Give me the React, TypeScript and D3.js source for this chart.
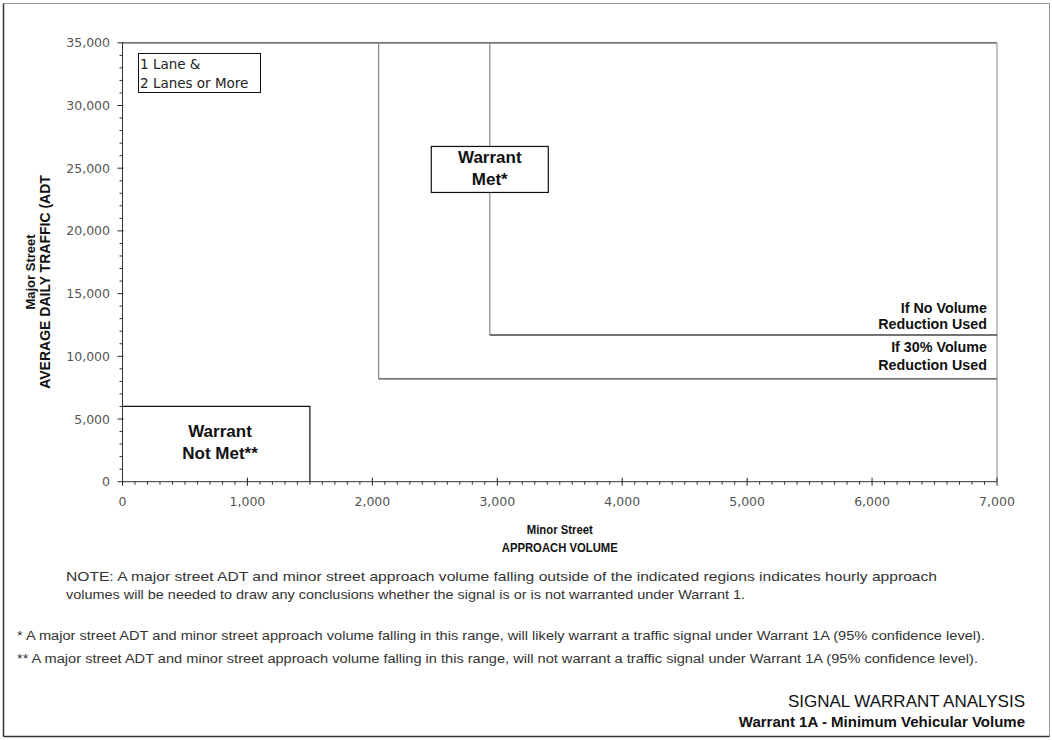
import React from "react";
import * as d3 from "d3";

// ---- Data ----
const xTickValues = [0, 1000, 2000, 3000, 4000, 5000, 6000, 7000];
const yTickValues = [0, 5000, 10000, 15000, 20000, 25000, 30000, 35000];
const xDomain = [0, 7000];
const yDomain = [0, 35000];

// Warrant met boundaries (minor street approach volume, major street ADT)
const boundaryLabels = [
  ["If No Volume", "Reduction Used"],
  ["If 30% Volume", "Reduction Used"],
];
const boundaryMinor = [2940, 2050];
const boundaryMajor = [11700, 8200];

// Warrant not met region
const notMetMinor = [0, 1500];
const notMetMajor = [0, 6000];

const legendLines = ["1 Lane &", "2 Lanes or More"];
const metLabel = ["Warrant", "Met*"];
const notMetLabel = ["Warrant", "Not Met**"];

const xTitle = ["Minor Street", "APPROACH VOLUME"];
const yTitle = ["Major Street", "AVERAGE DAILY TRAFFIC (ADT"];

const noteLines = [
  "NOTE:  A major street ADT and minor street approach volume falling outside of the indicated regions indicates hourly approach",
  "volumes will be needed to draw any conclusions whether the signal is or is not warranted under Warrant 1.",
];
const footnotes = [
  "*  A major street ADT and minor street approach volume falling in this range, will likely warrant a traffic signal under Warrant 1A (95% confidence level).",
  "** A major street ADT and minor street approach volume falling in this range, will not warrant a traffic signal under Warrant 1A (95%  confidence level).",
];
const footerLines = ["SIGNAL WARRANT ANALYSIS", "Warrant 1A - Minimum Vehicular Volume"];

const W = 1052;
const H = 740;
const ARIAL = "'Liberation Sans', Arial, sans-serif";
const WIDE = "'DejaVu Sans', Verdana, sans-serif";

export default function App() {
  const x = d3.scaleLinear().domain(xDomain).range([122.5, 997]);
  const y = d3.scaleLinear().domain(yDomain).range([481.7, 42.8]);
  const fmt = d3.format(",");

  const xMinor = d3.range(xDomain[0], xDomain[1] + 1, 100).filter((v) => v % 1000 !== 0);
  const yMinor = d3.range(yDomain[0], yDomain[1] + 1, 1000).filter((v) => v % 5000 !== 0);

  const x0 = x(xDomain[0]);
  const x1 = x(xDomain[1]);
  const y0 = y(yDomain[0]);
  const y1 = y(yDomain[1]);

  // Met label box anchored on the no-reduction boundary
  const metX = x(boundaryMinor[0]);
  const metYc = y(24900);

  const noteWidths = [871, 679];
  const footWidths = [968, 961];
  const xTitleWidths = [66, 116];

  return (
    <svg
      width={W}
      height={H}
      style={{ position: "absolute", left: 0, top: 0, background: "#fff" }}
    >
      <rect x={0} y={0} width={W} height={H} fill="#fff" />
      {/* outer frame */}
      <line x1={3.5} y1={3.5} x2={1049.5} y2={3.5} stroke="#999" strokeWidth={1} />
      <line x1={1049.5} y1={3.5} x2={1049.5} y2={736.5} stroke="#999" strokeWidth={1} />
      <line x1={3.5} y1={3.5} x2={3.5} y2={736.5} stroke="#333" strokeWidth={1.5} />
      <line x1={3.5} y1={736.5} x2={1049.5} y2={736.5} stroke="#333" strokeWidth={1.5} />

      {/* plot frame */}
      <line x1={x0} y1={y1} x2={x1} y2={y1} stroke="#444" strokeWidth={1.3} />
      <line x1={x1} y1={y1} x2={x1} y2={y0} stroke="#888" strokeWidth={1} />
      <line x1={x0} y1={y1} x2={x0} y2={y0} stroke="#333" strokeWidth={1} />
      <line x1={x0} y1={y0} x2={x1} y2={y0} stroke="#333" strokeWidth={1} />

      {/* x ticks */}
      {xMinor.map((v) => (
        <line key={"xm" + v} x1={x(v)} x2={x(v)} y1={y0} y2={y0 + 3} stroke="#333" />
      ))}
      {xTickValues.map((v) => (
        <g key={"xt" + v}>
          <line x1={x(v)} x2={x(v)} y1={y0 - 4} y2={y0 + 4} stroke="#222" />
          <text
            x={x(v)}
            y={506}
            textAnchor="middle"
            fontFamily={WIDE}
            fontSize={12.5}
            fill="#555"
          >
            {fmt(v)}
          </text>
        </g>
      ))}

      {/* y ticks */}
      {yMinor.map((v) => (
        <line key={"ym" + v} x1={x0 - 3} x2={x0} y1={y(v)} y2={y(v)} stroke="#333" />
      ))}
      {yTickValues.map((v) => (
        <g key={"yt" + v}>
          <line x1={x0 - 5} x2={x0 + 1} y1={y(v)} y2={y(v)} stroke="#222" />
          <text
            x={110}
            y={y(v) + 4.5}
            textAnchor="end"
            fontFamily={WIDE}
            fontSize={12.5}
            fill="#555"
          >
            {fmt(v)}
          </text>
        </g>
      ))}

      {/* boundaries */}
      {boundaryMinor.map((m, i) => (
        <g key={"b" + i}>
          <line
            x1={x(m)}
            x2={x(m)}
            y1={y1}
            y2={y(boundaryMajor[i])}
            stroke="#888"
            strokeWidth={1.2}
          />
          <line
            x1={x(m)}
            x2={x1}
            y1={y(boundaryMajor[i])}
            y2={y(boundaryMajor[i])}
            stroke="#444"
            strokeWidth={1.4}
          />
          {boundaryLabels[i].map((t, j) => (
            <text
              key={j}
              x={987}
              y={y(boundaryMajor[i]) - 22 + j * (i === 0 ? 16 : 18) + (i === 0 ? 0 : -5)}
              textAnchor="end"
              fontFamily={ARIAL}
              fontWeight="bold"
              fontSize={14.3}
              fill="#111"
            >
              {t}
            </text>
          ))}
        </g>
      ))}

      {/* not met region */}
      <polyline
        points={[
          [x(notMetMinor[0]), y(notMetMajor[1])],
          [x(notMetMinor[1]), y(notMetMajor[1])],
          [x(notMetMinor[1]), y(notMetMajor[0])],
        ]
          .map((p) => p.join(","))
          .join(" ")}
        fill="none"
        stroke="#111"
        strokeWidth={1.2}
      />
      {notMetLabel.map((t, j) => (
        <text
          key={"nm" + j}
          x={220}
          y={437 + j * 22}
          textAnchor="middle"
          fontFamily={ARIAL}
          fontWeight="bold"
          fontSize={17}
          fill="#111"
        >
          {t}
        </text>
      ))}

      {/* met label */}
      <rect
        x={metX - 58.5}
        y={metYc - 23}
        width={117}
        height={46}
        fill="#fff"
        stroke="#111"
        strokeWidth={1.2}
      />
      {metLabel.map((t, j) => (
        <text
          key={"m" + j}
          x={metX}
          y={metYc - 6 + j * 22}
          textAnchor="middle"
          fontFamily={ARIAL}
          fontWeight="bold"
          fontSize={17}
          fill="#111"
        >
          {t}
        </text>
      ))}

      {/* legend box */}
      <rect x={138.5} y={53.5} width={122} height={39} fill="#fff" stroke="#111" strokeWidth={1} />
      {legendLines.map((t, j) => (
        <text
          key={"l" + j}
          x={140}
          y={69 + j * 19}
          fontFamily={WIDE}
          fontSize={13.5}
          fill="#222"
        >
          {t}
        </text>
      ))}

      {/* axis titles */}
      {xTitle.map((t, j) => (
        <text
          key={"xt" + j}
          x={(x0 + x1) / 2 - xTitleWidths[j] / 2}
          y={534 + j * 18}
          fontFamily={ARIAL}
          fontWeight="bold"
          fontSize={13.5}
          fill="#111"
          textLength={xTitleWidths[j]}
          lengthAdjust="spacingAndGlyphs"
        >
          {t}
        </text>
      ))}
      <text
        transform={`translate(35,272) rotate(-90)`}
        textAnchor="middle"
        fontFamily={ARIAL}
        fontWeight="bold"
        fontSize={13}
        fill="#111"
      >
        {yTitle[0]}
      </text>
      <text
        transform={`translate(50,282) rotate(-90)`}
        textAnchor="middle"
        fontFamily={ARIAL}
        fontWeight="bold"
        fontSize={14}
        fill="#111"
      >
        {yTitle[1]}
      </text>

      {/* notes */}
      {noteLines.map((t, j) => (
        <text
          key={"n" + j}
          x={66}
          y={581 + j * 18}
          fontFamily={ARIAL}
          fontSize={13}
          fill="#333"
          textLength={noteWidths[j]}
          lengthAdjust="spacingAndGlyphs"
        >
          {t}
        </text>
      ))}
      {footnotes.map((t, j) => (
        <text
          key={"f" + j}
          x={17}
          y={640 + j * 23}
          fontFamily={ARIAL}
          fontSize={12}
          fill="#333"
          textLength={footWidths[j]}
          lengthAdjust="spacingAndGlyphs"
        >
          {t}
        </text>
      ))}
      <text x={1025} y={707} textAnchor="end" fontFamily={ARIAL} fontSize={17} fill="#111">
        {footerLines[0]}
      </text>
      <text
        x={1025}
        y={727}
        textAnchor="end"
        fontFamily={ARIAL}
        fontWeight="bold"
        fontSize={15}
        fill="#111"
      >
        {footerLines[1]}
      </text>
    </svg>
  );
}
